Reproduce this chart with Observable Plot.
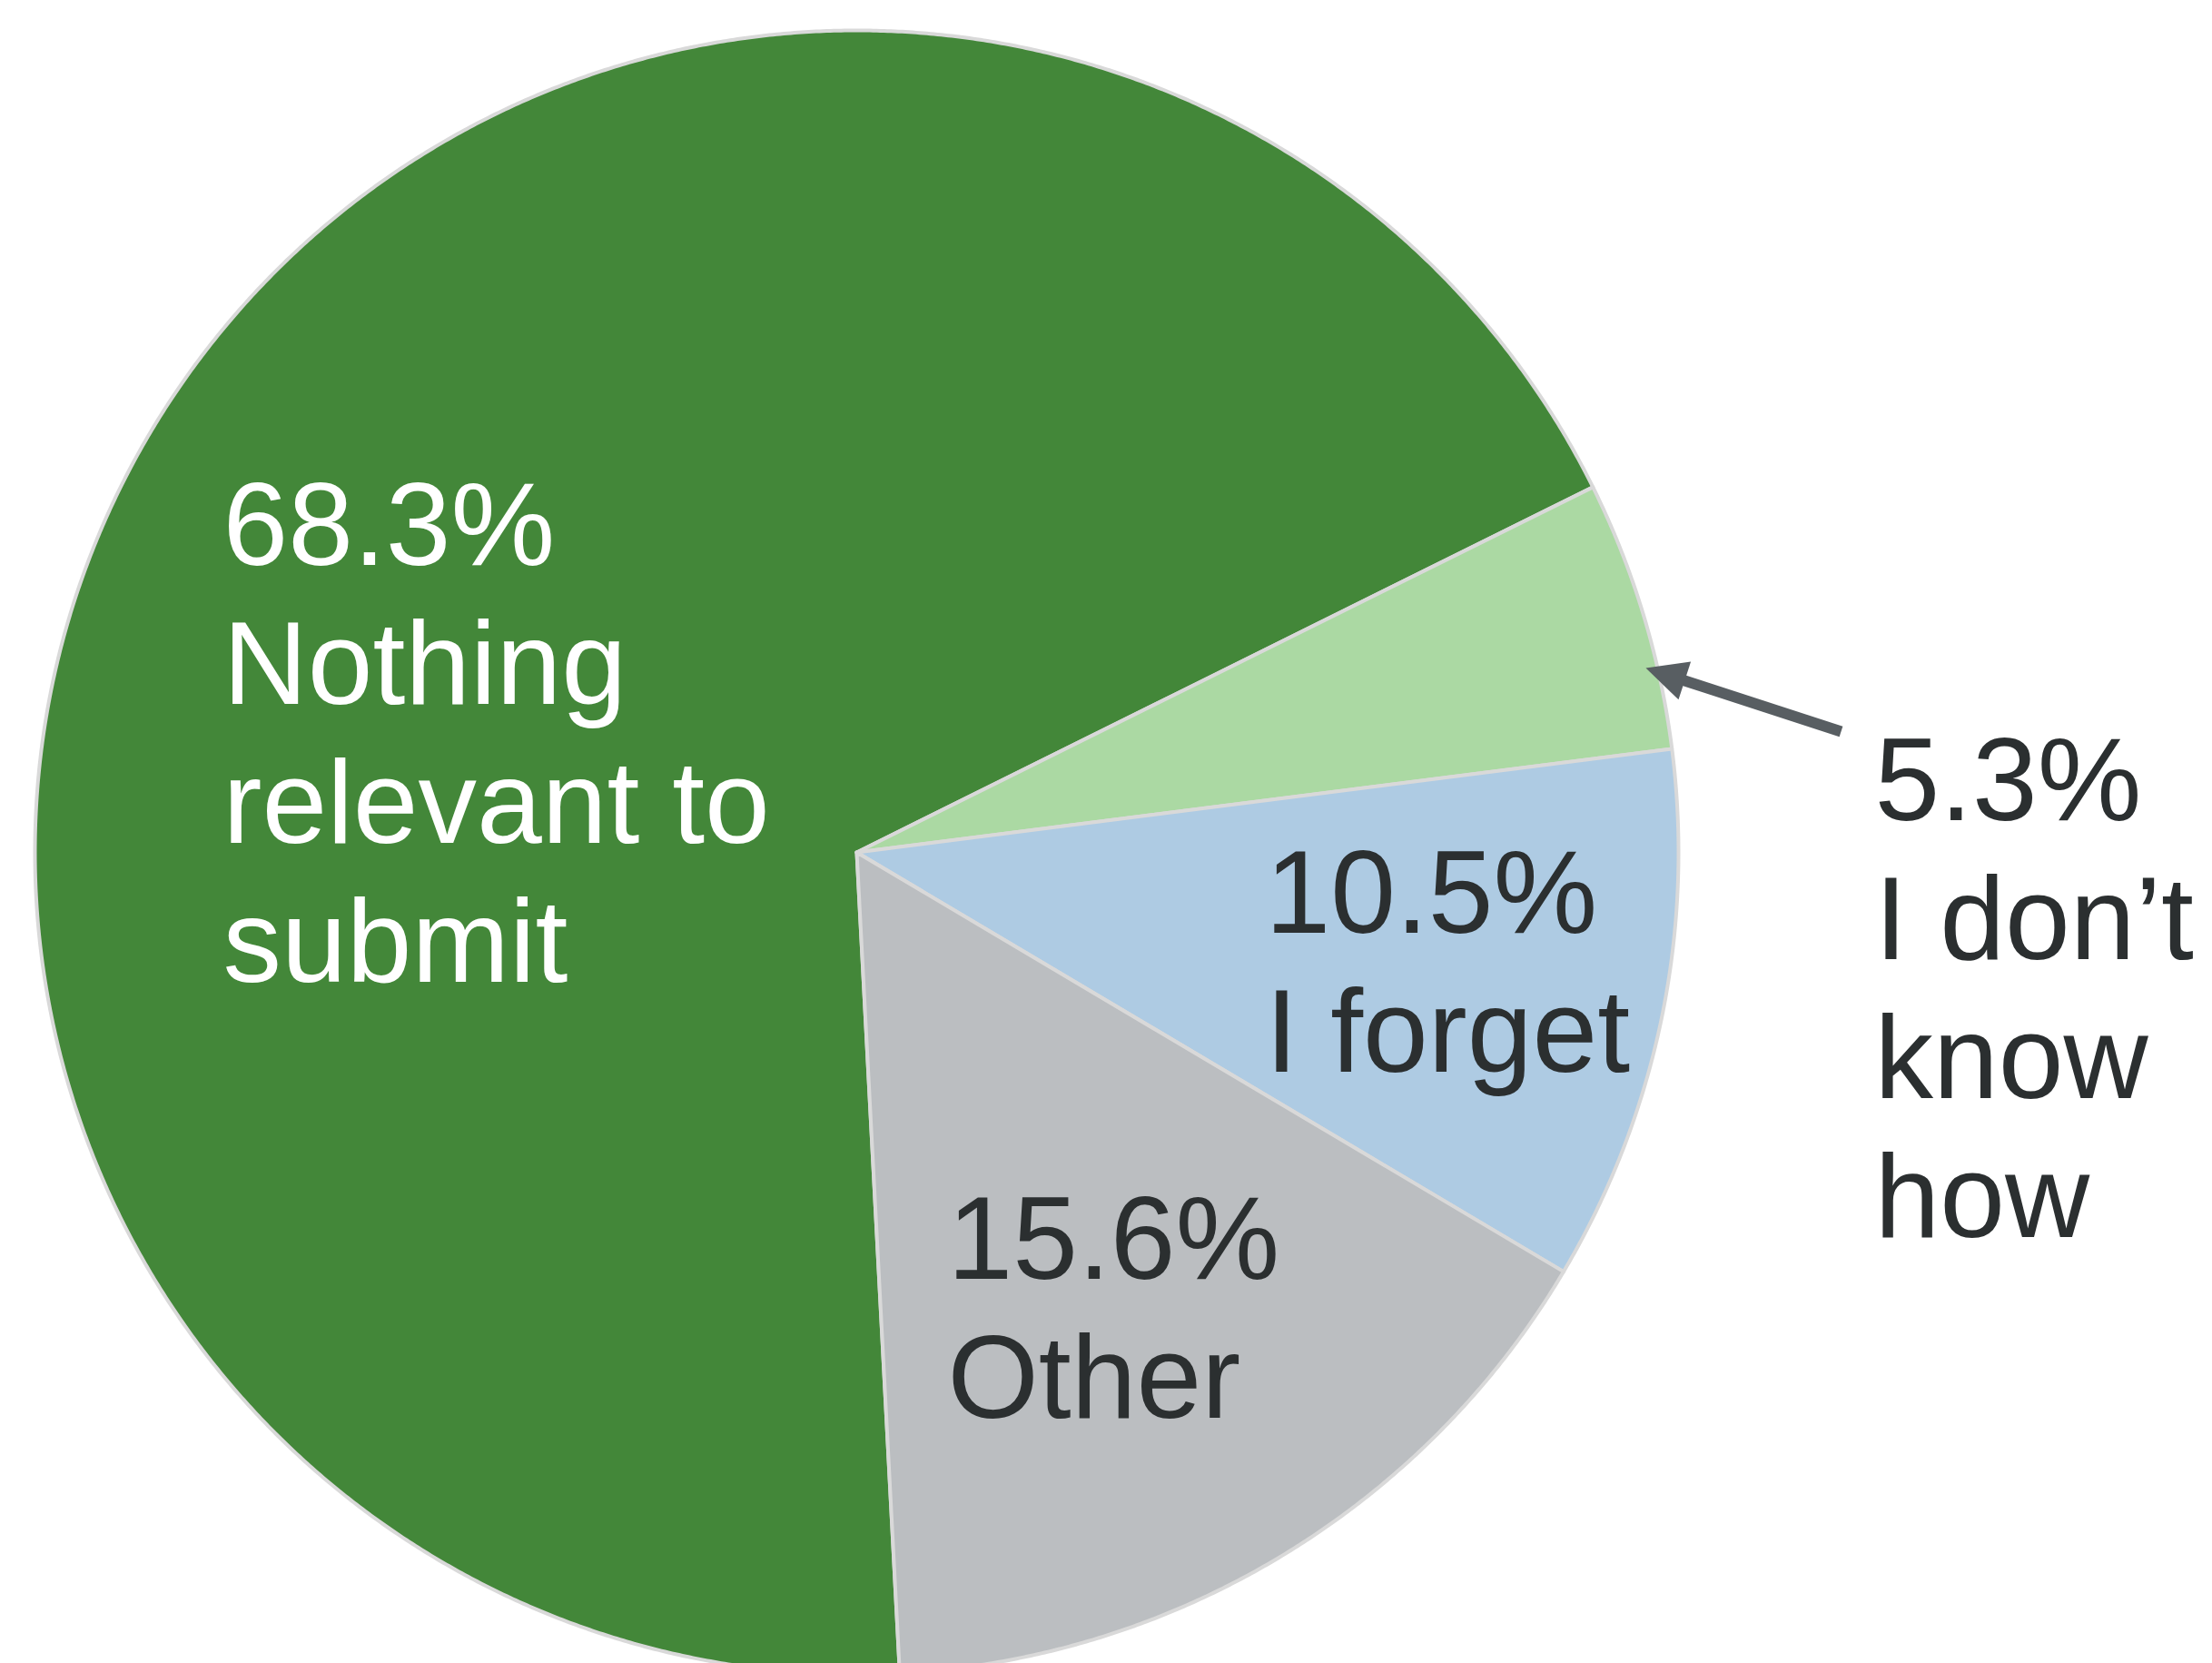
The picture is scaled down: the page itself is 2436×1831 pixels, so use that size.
<!DOCTYPE html>
<html>
<head>
<meta charset="utf-8">
<script src="https://cdn.jsdelivr.net/npm/d3@7"></script>
<script src="https://cdn.jsdelivr.net/npm/@observablehq/plot@0.6"></script>
<style>
  html, body { margin: 0; padding: 0; background: #ffffff; }
  #chart svg { display: block; }
</style>
</head>
<body>
<div id="chart"></div>
<script>
// ---- Data ----
const categories = ["Nothing relevant to submit", "I don’t know how", "I forget", "Other"];
const values = [68.3, 5.3, 10.5, 15.6];
const labelTexts = ["68.3%\nNothing\nrelevant to\nsubmit", "5.3%\nI don’t\nknow\nhow", "10.5%\nI forget", "15.6%\nOther"];
const colors = ["#438739", "#abd9a3", "#aecbe3", "#bbbec1"];
const textColors = ["#ffffff", "#2b2f30", "#2b2f30", "#2b2f30"];

// ---- Layout (unit-circle coordinates: centre 0,0, radius 1) ----
const W = 2436, H = 1831;
const cx = 943, cy = 938, R = 905;           // pixel placement of the pie
const startDeg = 177;                          // boundary Other | Nothing (clockwise from 12 o'clock)
const fontSize = 129, lineStep = 152.7;        // px
// first-baseline anchor of each label, unit coords
const labelPos = [[-0.7713, 0.3492], [1.2387, 0.0387], [0.4972, -0.0983], [0.1105, -0.5193]];
// annotation arrow for the small slice (tail -> tip), unit coords
const arrowTail = [1.1978, 0.1470], arrowTip = [0.9602, 0.2243];

// ---- Build slices through d3.pie ----
const arcs = d3.pie().sort(null).value(d => d)
  .startAngle(startDeg * Math.PI / 180)
  .endAngle(startDeg * Math.PI / 180 + 2 * Math.PI)(values);

const slicePts = [];
arcs.forEach((a, i) => {
  const cat = categories[i];
  slicePts.push({cat, x: 0, y: 0});
  const steps = Math.max(8, Math.ceil((a.endAngle - a.startAngle) / (Math.PI / 720)));
  for (let k = 0; k <= steps; ++k) {
    const t = a.startAngle + (a.endAngle - a.startAngle) * k / steps;
    slicePts.push({cat, x: Math.sin(t), y: Math.cos(t)});
  }
  slicePts.push({cat, x: 0, y: 0});
});

// ---- Labels ----
const labels = labelTexts.map((t, i) => {
  const n = t.split("\n").length;
  return {text: t, cat: categories[i], color: textColors[i],
          x: labelPos[i][0], y: labelPos[i][1] - (n - 1) * lineStep / R};
});

// ---- Arrow (shaft + filled head) ----
const ux = arrowTip[0] - arrowTail[0], uy = arrowTip[1] - arrowTail[1];
const len = Math.hypot(ux, uy);
const dx = ux / len, dy = uy / len;
const headLen = 45 / R, headHalf = 22 / R;
const base = [arrowTip[0] - dx * headLen, arrowTip[1] - dy * headLen];
const shaft = [{x1: arrowTail[0], y1: arrowTail[1], x2: base[0] + dx * 4 / R, y2: base[1] + dy * 4 / R}];
const head = [
  {x: arrowTip[0], y: arrowTip[1]},
  {x: base[0] - dy * headHalf, y: base[1] + dx * headHalf},
  {x: base[0] + dy * headHalf, y: base[1] - dx * headHalf},
  {x: arrowTip[0], y: arrowTip[1]}
];

const chart = Plot.plot({
  width: W,
  height: H,
  margin: 0,
  style: {background: "#ffffff", fontFamily: "'Liberation Sans', Arial, Helvetica, sans-serif"},
  x: {domain: [-cx / R, (W - cx) / R], range: [0, W], axis: null},
  y: {domain: [-(H - cy) / R, cy / R], range: [H, 0], axis: null},
  color: {domain: categories, range: colors},
  marks: [
    Plot.line(slicePts, {x: "x", y: "y", z: "cat", fill: "cat", stroke: "#d9d9d9", strokeWidth: 4, strokeLinejoin: "round", curve: "linear"}),
    Plot.text(labels, {x: "x", y: "y", text: "text", fill: "color", textAnchor: "start", lineAnchor: "bottom",
      lineHeight: lineStep / fontSize, fontSize: fontSize, fontFamily: "'Liberation Sans', Arial, Helvetica, sans-serif"}),
    Plot.link(shaft, {x1: "x1", y1: "y1", x2: "x2", y2: "y2", stroke: "#585e62", strokeWidth: 12, strokeLinecap: "butt"}),
    Plot.line(head, {x: "x", y: "y", fill: "#585e62", stroke: "none"})
  ]
});
document.getElementById("chart").appendChild(chart);
</script>
</body>
</html>
